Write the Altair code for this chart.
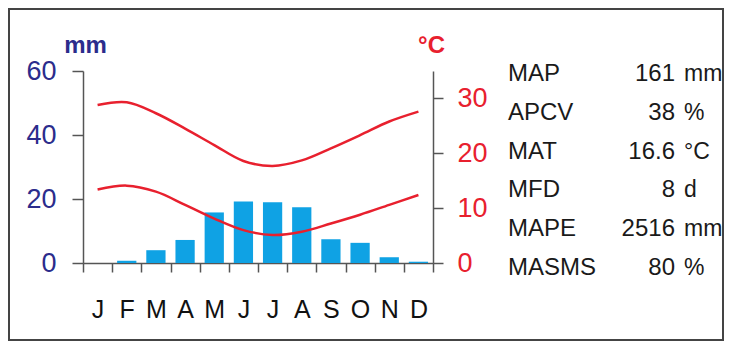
import altair as alt
import pandas as pd

month_keys = ["Jan", "Feb", "Mar", "Apr", "May", "Jun", "Jul", "Aug", "Sep", "Oct", "Nov", "Dec"]
precip_mm = [0.0, 0.7, 4.0, 7.2, 15.8, 19.2, 19.0, 17.4, 7.4, 6.3, 1.8, 0.4]
temp_max = [28.8, 29.3, 27.3, 24.5, 21.5, 18.6, 17.7, 18.7, 20.9, 23.3, 25.8, 27.6]
temp_min = [13.4, 14.1, 13.0, 10.6, 8.1, 6.0, 5.1, 5.7, 7.2, 8.8, 10.6, 12.4]

stat_labels = ["MAP", "APCV", "MAT", "MFD", "MAPE", "MASMS"]
stat_values = ["161", "38", "16.6", "8", "2516", "80"]
stat_units = ["mm", "%", "°C", "d", "mm", "%"]

NAVY = "#2B2C8C"
RED = "#E8202E"
BLUE = "#0FA2E4"
GRAY = "#555555"
FONT = "Liberation Sans"

bars_df = pd.DataFrame({"month": month_keys, "precip": precip_mm})
lines_df = pd.DataFrame({
    "month": month_keys * 2,
    "temp": temp_max + temp_min,
    "series": ["max"] * 12 + ["min"] * 12,
})
stats_df = pd.DataFrame({"stat": stat_labels, "value": stat_values, "unit": stat_units})

x_enc = alt.X(
    "month:N",
    sort=month_keys,
    scale=alt.Scale(domain=month_keys, paddingInner=0, paddingOuter=0),
    axis=alt.Axis(
        title=None, labelAngle=0, labelExpr="substring(datum.label, 0, 1)",
        tickBand="extent", tickSize=9, tickColor=GRAY, tickWidth=1.5,
        domainColor=GRAY, domainWidth=1.5, labelFontSize=25, labelColor="#111111",
        labelPadding=25, labelFont=FONT, grid=False,
    ),
)

bars = alt.Chart(bars_df).mark_bar(color=BLUE, width=alt.RelativeBandSize(0.66)).encode(
    x=x_enc,
    y=alt.Y(
        "precip:Q",
        scale=alt.Scale(domain=[0, 60], nice=False),
        axis=alt.Axis(
            orient="left", values=[0, 20, 40, 60], tickSize=11, tickColor=GRAY, tickWidth=1.5,
            domainColor=GRAY, domainWidth=1.5, labelFontSize=27, labelColor=NAVY,
            labelPadding=16, labelFont=FONT, grid=False,
            title="mm", titleAngle=0, titleX=2, titleY=-26, titleAlign="center",
            titleBaseline="middle", titleFontWeight="bold", titleFontSize=24,
            titleColor=NAVY, titleFont=FONT,
        ),
    ),
)

lines = alt.Chart(lines_df).mark_line(color=RED, strokeWidth=2.5, interpolate="catmull-rom").encode(
    x=x_enc,
    y=alt.Y(
        "temp:Q",
        scale=alt.Scale(domain=[0, 35], nice=False),
        axis=alt.Axis(
            orient="right", values=[0, 10, 20, 30], tickSize=10, tickColor=GRAY, tickWidth=1.5,
            domainColor=GRAY, domainWidth=1.5, labelFontSize=27, labelColor=RED,
            labelPadding=14, labelFont=FONT, grid=False,
            title="°C", titleAngle=0, titleX=-2, titleY=-26, titleAlign="center",
            titleBaseline="middle", titleFontWeight="bold", titleFontSize=24,
            titleColor=RED, titleFont=FONT,
        ),
    ),
    detail="series:N",
)

row_y = alt.Y("stat:N", scale=alt.Scale(domain=stat_labels, range=[3, 197], padding=0), axis=None)

stat_names = alt.Chart(stats_df).mark_text(
    align="left", baseline="middle", fontSize=24, font=FONT, color="#1a1a1a"
).encode(x=alt.value(425), y=row_y, text="stat:N")

stat_vals = alt.Chart(stats_df).mark_text(
    align="right", baseline="middle", fontSize=24, font=FONT, color="#1a1a1a"
).encode(x=alt.value(592), y=row_y, text="value:N")

stat_units_l = alt.Chart(stats_df).mark_text(
    align="left", baseline="middle", fontSize=23, font=FONT, color="#1a1a1a"
).encode(x=alt.value(601), y=row_y, text="unit:N")

frame = alt.Chart(pd.DataFrame({"f": [0]})).mark_rect(
    fill=None, stroke="#444444", strokeWidth=2
).encode(x=alt.value(-74), x2=alt.value(640), y=alt.value(-62), y2=alt.value(269))

chart = alt.layer(
    frame, bars, lines, stat_names, stat_vals, stat_units_l
).resolve_scale(y="independent").properties(
    width=350,
    height=192,
    autosize=alt.AutoSizeParams(type="none"),
    padding={"left": 75, "top": 63, "right": 291, "bottom": 79},
    background="white",
).configure_view(stroke=None)

chart.save("out.html", embed_options={"renderer": "svg", "actions": False})
